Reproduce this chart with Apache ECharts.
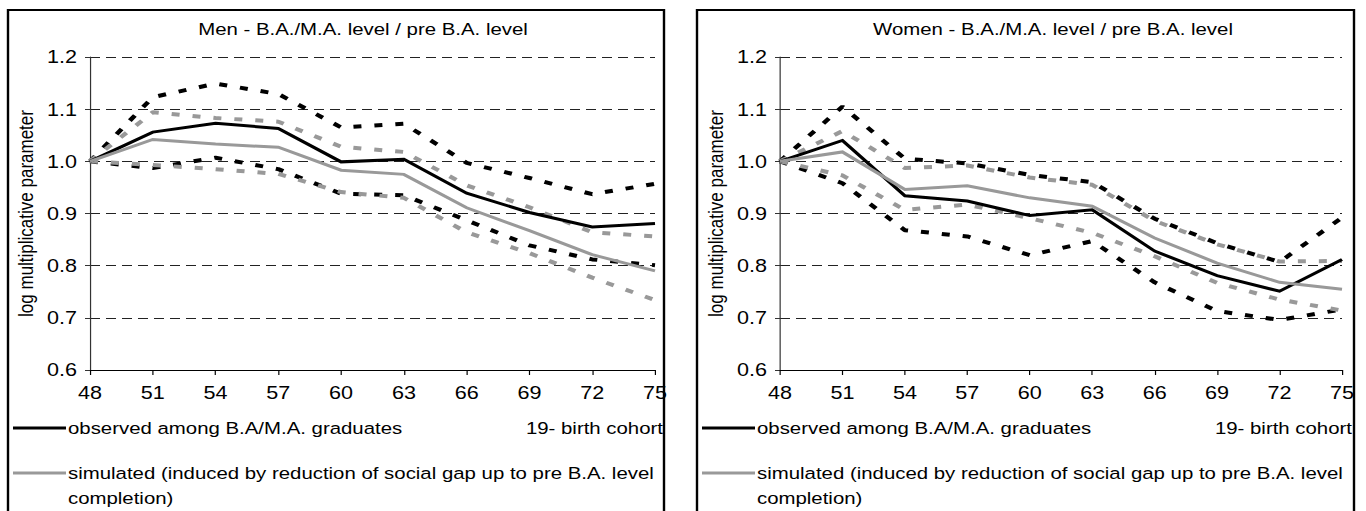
<!DOCTYPE html>
<html>
<head>
<meta charset="utf-8">
<script src="https://cdn.jsdelivr.net/npm/echarts@6/dist/echarts.min.js"></script>
<style>
  html, body { margin: 0; padding: 0; background: #fff; overflow: hidden; }
  #wrap { width: 1366px; height: 511px; overflow: hidden; }
  /* the chart is laid out narrower and stretched horizontally */
  #chart { width: 1139px; height: 511px; transform: scaleX(1.199297629); transform-origin: 0 0; }
</style>
</head>
<body>
<div id="wrap"><div id="chart"></div></div>
<script>
// Birth cohorts (19xx)
const cohorts = ['48', '51', '54', '57', '60', '63', '66', '69', '72', '75'];

// Men: log multiplicative parameter, B.A./M.A. level relative to pre B.A. level
const menObserved      = [1.000, 1.056, 1.073, 1.063, 0.999, 1.004, 0.939, 0.902, 0.874, 0.881];
const menObservedUpper = [1.000, 1.123, 1.149, 1.129, 1.065, 1.072, 0.997, 0.968, 0.937, 0.957];
const menObservedLower = [1.000, 0.987, 1.007, 0.985, 0.938, 0.935, 0.887, 0.839, 0.812, 0.801];
const menSimulated      = [1.000, 1.042, 1.033, 1.027, 0.983, 0.975, 0.911, 0.867, 0.821, 0.790];
const menSimulatedUpper = [1.000, 1.094, 1.083, 1.076, 1.028, 1.018, 0.954, 0.912, 0.864, 0.856];
const menSimulatedLower = [1.000, 0.993, 0.985, 0.976, 0.941, 0.930, 0.864, 0.824, 0.777, 0.734];

// Women
const womenObserved      = [1.000, 1.040, 0.934, 0.924, 0.896, 0.907, 0.828, 0.781, 0.751, 0.812];
const womenObservedUpper = [1.000, 1.105, 1.005, 0.996, 0.974, 0.960, 0.890, 0.843, 0.807, 0.892];
const womenObservedLower = [1.000, 0.958, 0.868, 0.856, 0.820, 0.847, 0.768, 0.713, 0.696, 0.716];
const womenSimulated      = [1.000, 1.018, 0.946, 0.953, 0.930, 0.914, 0.853, 0.805, 0.768, 0.755];
const womenSimulatedUpper = [1.000, 1.058, 0.987, 0.992, 0.969, 0.955, 0.886, 0.841, 0.808, 0.809];
const womenSimulatedLower = [1.000, 0.973, 0.907, 0.917, 0.891, 0.863, 0.818, 0.767, 0.735, 0.714];

// Texts
const panelTitles = ['Men - B.A./M.A. level / pre B.A. level', 'Women - B.A./M.A. level / pre B.A. level'];
const yAxisTitle = 'log multiplicative parameter';
const xAxisTitle = '19- birth cohort';
const observedName = 'observed among B.A/M.A. graduates';
const simulatedName = 'simulated (induced by reduction of social gap up to pre B.A. level';
const simulatedNameCont = 'completion)';

// ---- layout helpers (screen px -> stretched layout px) ----
const SX = 1366 / 1139;
const X = v => v / SX;
const FONT = '"Liberation Sans", Arial, Helvetica, sans-serif';
const BLACK = '#000000';
const GREY = '#999999';

const chart = echarts.init(document.getElementById('chart'), null, { renderer: 'svg' });

const panels = [
  { left: 8, right: 664, gridLeft: 90, gridRight: 655, titleX: 357 },
  { left: 697, right: 1354, gridLeft: 780, gridRight: 1342, titleX: 1047 }
];
const plotTop = 57, plotBottom = 370;

const grids = panels.map(p => ({
  left: X(p.gridLeft), width: X(p.gridRight - p.gridLeft),
  top: plotTop, height: plotBottom - plotTop
}));

const xAxes = panels.map((p, i) => ({
  type: 'category', gridIndex: i, data: cohorts, boundaryGap: false,
  axisLine: { lineStyle: { color: '#000', width: 1 } },
  axisTick: { length: 5, lineStyle: { color: '#000' } },
  axisLabel: { color: '#000', fontSize: 18, fontFamily: FONT, margin: 14 },
  splitLine: { show: false }
}));

const yAxes = panels.map((p, i) => ({
  type: 'value', gridIndex: i, min: 0.6, max: 1.2, interval: 0.1,
  name: yAxisTitle, nameLocation: 'middle', nameRotate: 90, nameGap: X(54),
  nameTextStyle: { color: '#000', fontSize: 17, fontFamily: FONT },
  axisLine: { show: true, lineStyle: { color: '#333', width: 1 } },
  axisTick: { show: true, length: X(5), lineStyle: { color: '#333' } },
  axisLabel: { color: '#000', fontSize: 18, fontFamily: FONT, margin: X(13),
               formatter: v => v.toFixed(1) },
  splitLine: { show: true, lineStyle: { color: '#222', width: 1, type: [X(10), X(6)] } }
}));

function line(data, color, dashed, gi, z) {
  return {
    type: 'line', xAxisIndex: gi, yAxisIndex: gi, data: data,
    symbol: 'none', silent: true, z: z,
    lineStyle: dashed
      ? { color: color, width: 4, type: [X(8), X(13)], cap: 'butt' }
      : { color: color, width: 3, cap: 'butt', join: 'miter' }
  };
}

const panelData = [
  [menObserved, menObservedUpper, menObservedLower, menSimulated, menSimulatedUpper, menSimulatedLower],
  [womenObserved, womenObservedUpper, womenObservedLower, womenSimulated, womenSimulatedUpper, womenSimulatedLower]
];

const series = [];
panelData.forEach((d, gi) => {
  series.push(line(d[1], BLACK, true, gi, 2));
  series.push(line(d[2], BLACK, true, gi, 2));
  series.push(line(d[4], GREY, true, gi, 3));
  series.push(line(d[5], GREY, true, gi, 3));
  series.push(line(d[0], BLACK, false, gi, 4));
  series.push(line(d[3], GREY, false, gi, 5));
});

// panel frames and legend keys
const graphics = [];
panels.forEach((p, i) => {
  const dx = p.left - 8;
  graphics.push({
    type: 'rect', silent: true, z: 0,
    shape: { x: X(p.left), y: 10, width: X(p.right - p.left), height: 520 },
    style: { fill: 'none', stroke: '#000', lineWidth: 2 }
  });
  const txt = (x, y, s, align) => ({
    type: 'text', silent: true, x: X(x + dx), y: y,
    style: { text: s, fill: '#000', font: '17px ' + FONT, align: align || 'left', verticalAlign: 'middle' }
  });
  const key = (y, color) => ({
    type: 'line', silent: true,
    shape: { x1: X(13 + dx), y1: y, x2: X(66 + dx), y2: y },
    style: { stroke: color, lineWidth: 3 }
  });
  graphics.push(key(428, BLACK));
  graphics.push(txt(68, 428, observedName));
  graphics.push(txt(663, 428, xAxisTitle, 'right'));
  graphics.push(key(473, GREY));
  graphics.push(txt(68, 473, simulatedName));
  graphics.push(txt(68, 498, simulatedNameCont));
});

chart.setOption({
  animation: false,
  backgroundColor: '#fff',
  title: panels.map((p, i) => ({
    text: panelTitles[i], left: X(p.titleX), top: 16, textAlign: 'center',
    textStyle: { color: '#000', fontSize: 17, fontWeight: 'normal', fontFamily: FONT }
  })),
  grid: grids,
  xAxis: xAxes,
  yAxis: yAxes,
  series: series,
  graphic: graphics
});
</script>
</body>
</html>
